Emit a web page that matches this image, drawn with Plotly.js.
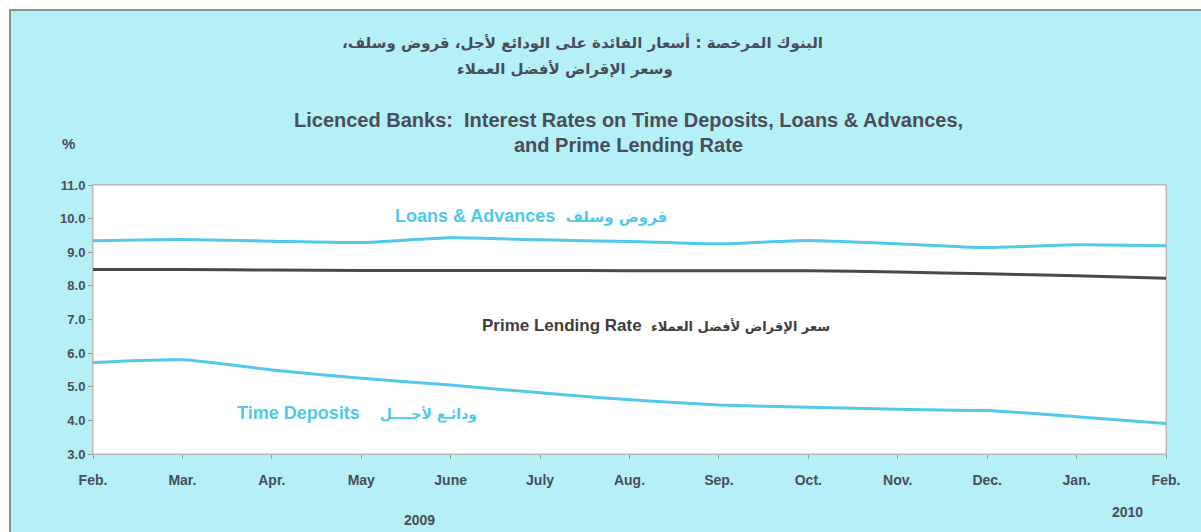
<!DOCTYPE html>
<html>
<head>
<meta charset="utf-8">
<script src="https://cdn.plot.ly/plotly-3.0.1.min.js"></script>
<style>html,body{margin:0;padding:0;background:#fff;}#chart{width:1201px;height:532px;}</style>
</head>
<body>
<div id="chart"></div>
<script>
// ---- data ----
const months = ["Feb.","Mar.","Apr.","May","June","July","Aug.","Sep.","Oct.","Nov.","Dec.","Jan.","Feb."];
const loansAdvances = [9.34, 9.38, 9.33, 9.29, 9.43, 9.37, 9.32, 9.25, 9.35, 9.25, 9.14, 9.22, 9.19];
const primeLending  = [8.49, 8.49, 8.47, 8.46, 8.46, 8.46, 8.45, 8.45, 8.45, 8.41, 8.36, 8.30, 8.23];
const timeDeposits  = [5.72, 5.80, 5.50, 5.25, 5.05, 4.82, 4.61, 4.46, 4.39, 4.33, 4.29, 4.11, 3.91];
const yTicks = [3,4,5,6,7,8,9,10,11];
const yTickText = ["3.0","4.0","5.0","6.0","7.0","8.0","9.0","10.0","11.0"];
const years = ["2009","2010"];

const idx = months.map((m,i)=>i);
const cyanLine = "#52c8ea";
const darkLine = "#4a4a4a";
const textCol = "#4a4d5a";
const FONT = "Liberation Sans, Arial, DejaVu Sans, sans-serif";
const RLM = "\u200F";

const traces = [
  {x: idx, y: loansAdvances, type: "scatter", mode: "lines", line: {color: cyanLine, width: 3, shape: "spline", smoothing: 0.6}, hoverinfo: "skip"},
  {x: idx, y: primeLending, type: "scatter", mode: "lines", line: {color: darkLine, width: 3, shape: "spline", smoothing: 0.6}, hoverinfo: "skip"},
  {x: idx, y: timeDeposits, type: "scatter", mode: "lines", line: {color: cyanLine, width: 3, shape: "spline", smoothing: 0.6}, hoverinfo: "skip"}
];

const layout = {
  width: 1201, height: 532,
  margin: {l: 93, r: 35, t: 185, b: 78},
  paper_bgcolor: "#ffffff",
  plot_bgcolor: "rgba(0,0,0,0)",
  showlegend: false,
  font: {family: FONT, color: textCol},
  xaxis: {
    range: [0, 12], tickvals: idx, ticktext: months,
    showgrid: false, zeroline: false, showline: true, linecolor: "#b8b8b8", mirror: true,
    ticks: "outside", ticklen: 4, tickcolor: "#999",
    tickfont: {family: FONT, size: 14, color: textCol, weight: "bold"},
    ticklabelstandoff: 9
  },
  yaxis: {
    range: [3, 11], tickvals: yTicks, ticktext: yTickText,
    showgrid: false, zeroline: false, showline: true, linecolor: "#b8b8b8", mirror: true,
    ticks: "outside", ticklen: 4, tickcolor: "#999",
    tickfont: {family: FONT, size: 13, color: textCol, weight: "bold"}
  },
  shapes: [
    {type: "rect", xref: "paper", yref: "paper", layer: "below",
     x0: (10-93)/1073, x1: (1215-93)/1073, y0: (454-545)/269, y1: (454-10)/269,
     fillcolor: "#b4f0f5", line: {color: "#8a8f94", width: 2}},
    {type: "rect", xref: "paper", yref: "paper", layer: "below",
     x0: 0, x1: 1, y0: 0, y1: 1, fillcolor: "#ffffff", line: {color: "#bdbdbd", width: 1}}
  ],
  annotations: [
    {xref: "paper", yref: "paper", x: (582-93)/1073, y: (454-42)/269, xanchor: "center", yanchor: "middle",
     text: RLM + "البنوك المرخصة : أسعار الفائدة على الودائع لأجل، قروض وسلف،" + RLM, showarrow: false,
     font: {family: "DejaVu Sans, sans-serif", size: 15, color: textCol, weight: "bold"}},
    {xref: "paper", yref: "paper", x: (565-93)/1073, y: (454-69)/269, xanchor: "center", yanchor: "middle",
     text: RLM + "وسعر الإقراض لأفضل العملاء" + RLM, showarrow: false,
     font: {family: "DejaVu Sans, sans-serif", size: 15, color: textCol, weight: "bold"}},
    {xref: "paper", yref: "paper", x: (628-93)/1073, y: (454-120)/269, xanchor: "center", yanchor: "middle",
     text: "Licenced Banks:  Interest Rates on Time Deposits, Loans &amp; Advances,", showarrow: false,
     font: {family: FONT, size: 20, color: textCol, weight: "bold"}},
    {xref: "paper", yref: "paper", x: (628-93)/1073, y: (454-145)/269, xanchor: "center", yanchor: "middle",
     text: "and Prime Lending Rate", showarrow: false,
     font: {family: FONT, size: 20, color: textCol, weight: "bold"}},
    {xref: "paper", yref: "paper", x: (68-93)/1073, y: (454-143)/269, xanchor: "center", yanchor: "middle",
     text: "%", showarrow: false, font: {family: FONT, size: 15, color: textCol, weight: "bold"}},
    {xref: "x", yref: "y", x: 4.9, y: 10.08, xanchor: "center", yanchor: "middle", showarrow: false,
     text: "Loans &amp; Advances  <span style='font-family:DejaVu Sans;font-size:15px'>قروض وسلف</span>",
     font: {family: FONT, size: 18, color: cyanLine, weight: "bold"}},
    {xref: "x", yref: "y", x: 6.3, y: 6.81, xanchor: "center", yanchor: "middle", showarrow: false,
     text: "Prime Lending Rate  <span style='font-family:DejaVu Sans;font-size:13px'>سعر الإقراض لأفضل العملاء</span>",
     font: {family: FONT, size: 17, color: "#3e3e3e", weight: "bold"}},
    {xref: "x", yref: "y", x: 2.95, y: 4.22, xanchor: "center", yanchor: "middle", showarrow: false,
     text: "Time Deposits    <span style='font-family:DejaVu Sans;font-size:14px'>ودائـع لأجــــل</span>",
     font: {family: FONT, size: 18, color: cyanLine, weight: "bold"}},
    {xref: "paper", yref: "paper", x: (420-93)/1073, y: (454-520)/269, xanchor: "center", yanchor: "middle",
     text: years[0], showarrow: false, font: {family: FONT, size: 14, color: textCol, weight: "bold"}},
    {xref: "paper", yref: "paper", x: (1127-93)/1073, y: (454-512)/269, xanchor: "center", yanchor: "middle",
     text: years[1], showarrow: false, font: {family: FONT, size: 14, color: textCol, weight: "bold"}}
  ]
};

Plotly.newPlot("chart", traces, layout, {staticPlot: true, displayModeBar: false});
</script>
</body>
</html>
